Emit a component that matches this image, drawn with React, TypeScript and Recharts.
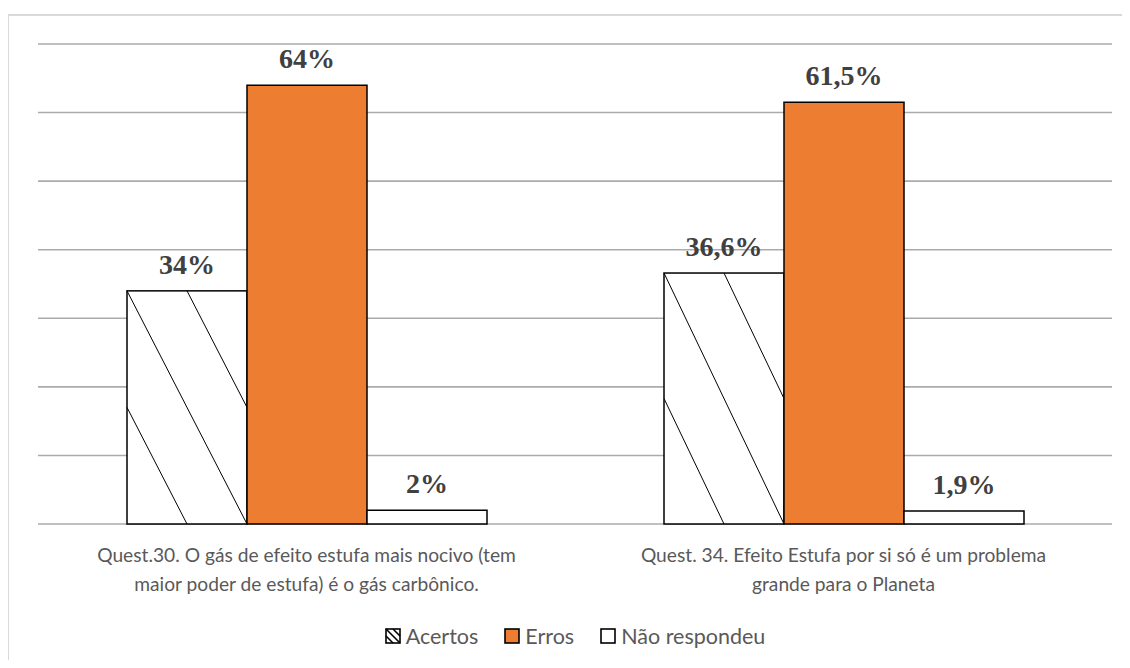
import { BarChart, Bar, XAxis, YAxis, CartesianGrid, LabelList, Legend } from "recharts"

const categories = [
    "Quest.30. O gás de efeito estufa mais nocivo (tem maior poder de estufa) é o gás carbônico.",
    "Quest. 34. Efeito Estufa por si só é um problema grande para o Planeta",
]
const categoryLines = [
    ["Quest.30. O gás de efeito estufa mais nocivo (tem", "maior poder de estufa) é o gás carbônico."],
    ["Quest. 34. Efeito Estufa por si só é um problema", "grande para o Planeta"],
]
const acertos = [34, 36.6]
const erros = [64, 61.5]
const naoRespondeu = [2, 1.9]
const yTicks = [0, 10, 20, 30, 40, 50, 60, 70]

const data = categories.map((name, i) => ({
    name,
    acertos: acertos[i],
    erros: erros[i],
    nao: naoRespondeu[i],
}))

const fmt = (v: any) => `${String(v).replace(".", ",")}%`

// hatched bar: white box with three "\" lines, like the excel pattern
function HatchBar(props: any) {
    const { x, y, width: w, height: h } = props
    if (!h) return null
    return (
        <g>
            <rect x={x} y={y} width={w} height={h} fill="#fff" stroke="#000" strokeWidth={1.5} />
            <line x1={x} y1={y} x2={x + w} y2={y + h} stroke="#000" strokeWidth={1} />
            <line x1={x + w / 2} y1={y} x2={x + w} y2={y + h / 2} stroke="#000" strokeWidth={1} />
            <line x1={x} y1={y + h / 2} x2={x + w / 2} y2={y + h} stroke="#000" strokeWidth={1} />
        </g>
    )
}

function CatTick(props: any) {
    const { x, y, index } = props
    const lines = categoryLines[index] || []
    return (
        <g>
            {lines.map((l, i) => (
                <text key={i} x={x} y={y + 30 + i * 29} textAnchor="middle" fill="#595959"
                    fontFamily="Lato, sans-serif" fontSize={19.2}>
                    {l}
                </text>
            ))}
        </g>
    )
}

function LegendBox() {
    const item = (icon: any, label: string) => (
        <span style={{ display: "inline-flex", alignItems: "center", margin: "0 13px" }}>
            <svg width={16} height={16} style={{ marginRight: 5 }}>{icon}</svg>
            <span>{label}</span>
        </span>
    )
    return (
        <div style={{ height: 26, display: "flex", justifyContent: "center", alignItems: "center",
            fontFamily: "Lato, sans-serif", fontSize: 21.5, color: "#595959" }}>
            {item(
                <g>
                    <rect x={1} y={1} width={14} height={14} fill="#fff" stroke="#000" strokeWidth={1.6} />
                    <line x1={1} y1={1} x2={15} y2={15} stroke="#000" strokeWidth={1.6} />
                    <line x1={8} y1={1} x2={15} y2={8} stroke="#000" strokeWidth={1.6} />
                    <line x1={1} y1={8} x2={8} y2={15} stroke="#000" strokeWidth={1.6} />
                </g>,
                "Acertos"
            )}
            {item(<rect x={1} y={1} width={14} height={14} fill="#ED7D31" stroke="#000" strokeWidth={1.6} />, "Erros")}
            {item(<rect x={1} y={1} width={14} height={14} fill="#fff" stroke="#000" strokeWidth={1.6} />, "Não respondeu")}
        </div>
    )
}

const labelFont = "'Liberation Serif', 'Times New Roman', serif"

export default function App() {
    return (
        <div style={{ position: "relative", margin: -8, width: 1130, height: 668, overflow: "hidden", background: "#fff" }}>
            <div style={{ position: "absolute", left: 7, top: 14, width: 1200, height: 700, border: "2px solid #d9d9d9" }} />
            <div style={{ position: "absolute", left: 0, top: 0 }}>
                <BarChart width={1130} height={668} data={data} barGap={0} barSize={120}
                    margin={{ top: 44, right: 18, left: 38, bottom: 19 }}>
                    <CartesianGrid vertical={false} stroke="#ababab" strokeWidth={1.6} />
                    <YAxis hide domain={[0, 70]} ticks={yTicks} />
                    <XAxis dataKey="name" axisLine={false} tickLine={false} height={99} interval={0} tick={<CatTick />} />
                    <Legend verticalAlign="bottom" content={<LegendBox />} />
                    <Bar dataKey="acertos" name="Acertos" shape={<HatchBar />} isAnimationActive={false}>
                        <LabelList dataKey="acertos" position="top" offset={17} formatter={fmt}
                            fontFamily={labelFont} fontSize={28} fontWeight={700} fill="#404040" />
                    </Bar>
                    <Bar dataKey="erros" name="Erros" fill="#ED7D31" stroke="#000" strokeWidth={1.5} isAnimationActive={false}>
                        <LabelList dataKey="erros" position="top" offset={17} formatter={fmt}
                            fontFamily={labelFont} fontSize={28} fontWeight={700} fill="#404040" />
                    </Bar>
                    <Bar dataKey="nao" name="Não respondeu" fill="#fff" stroke="#000" strokeWidth={1.5} isAnimationActive={false}>
                        <LabelList dataKey="nao" position="top" offset={17} formatter={fmt}
                            fontFamily={labelFont} fontSize={28} fontWeight={700} fill="#404040" />
                    </Bar>
                </BarChart>
            </div>
        </div>
    )
}
